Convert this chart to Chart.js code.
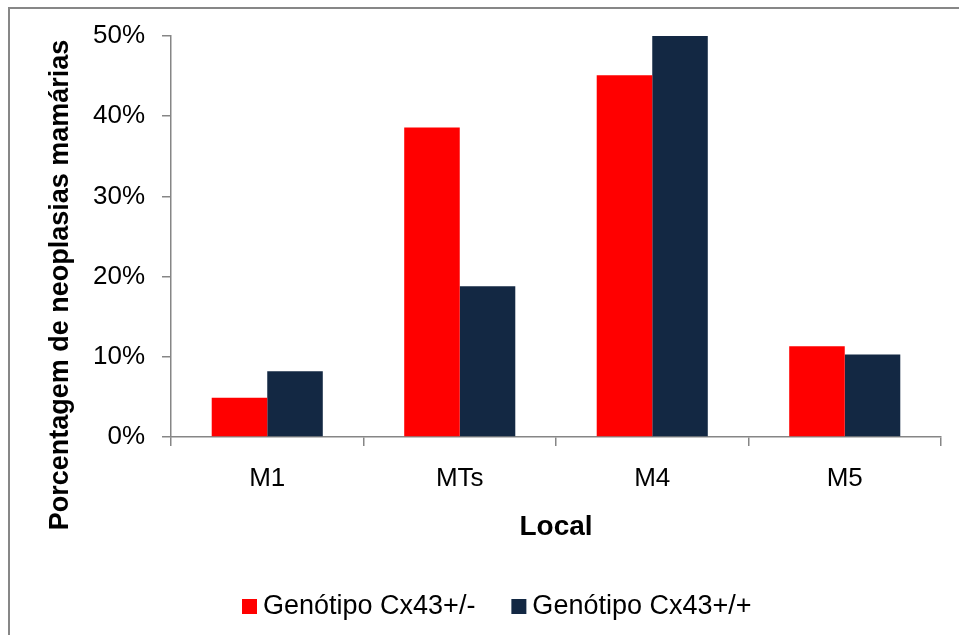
<!DOCTYPE html>
<html>
<head>
<meta charset="utf-8">
<script src="https://cdn.jsdelivr.net/npm/chart.js@4.4.0/dist/chart.umd.min.js"></script>
<style>
  html, body { margin: 0; padding: 0; background: #fff; overflow: hidden; }
  #frame { position: absolute; left: 8px; top: 7px; width: 1000px; height: 700px;
           border-top: 2px solid #878787; border-left: 2px solid #878787; }
  #wrap { position: absolute; left: 0; top: 0; width: 959px; height: 635px; }
</style>
</head>
<body>
<div id="frame"></div>
<div id="wrap"><canvas id="chart"></canvas></div>
<script>
// chart data
const categories = ["M1", "MTs", "M4", "M5"];
const seriesNames = ["Genótipo Cx43+/-", "Genótipo Cx43+/+"];
const heterozygous = [4.9, 38.6, 45.1, 11.3]; // Cx43+/-
const wildType = [8.2, 18.8, 50.0, 10.3];     // Cx43+/+
const yTicks = [0, 10, 20, 30, 40, 50];
const yTitle = "Porcentagem de neoplasias mamárias";
const xTitle = "Local";

const FONT = '"Liberation Sans", Arial, sans-serif';
const AXIS_GRAY = "#868686";

// rotated y title, placed like the original (not centred on the axis)
const yTitlePlugin = {
  id: "yTitle",
  afterDraw(chart) {
    const ctx = chart.ctx;
    ctx.save();
    ctx.translate(61, 285);
    ctx.rotate(-Math.PI / 2);
    ctx.font = "bold 27px " + FONT;
    ctx.fillStyle = "#000";
    ctx.textAlign = "center";
    ctx.textBaseline = "middle";
    ctx.fillText(yTitle, 0, 0);
    ctx.restore();
  }
};

// legend row at the bottom, small square + label
const bottomLegend = {
  id: "bottomLegend",
  afterDraw(chart) {
    const ctx = chart.ctx;
    const y = 607;
    let x = 242;
    ctx.save();
    ctx.font = "27px " + FONT;
    ctx.textBaseline = "middle";
    ctx.textAlign = "left";
    chart.data.datasets.forEach((ds) => {
      ctx.fillStyle = ds.backgroundColor;
      ctx.fillRect(x, y - 8, 15, 15);
      x += 21;
      ctx.fillStyle = "#000";
      ctx.fillText(ds.label, x, y);
      x += ctx.measureText(ds.label).width + 36;
    });
    ctx.restore();
  }
};

const ctx = document.getElementById("chart").getContext("2d");
const chart = new Chart(ctx, {
  type: "bar",
  data: {
    labels: categories,
    datasets: [
      { label: seriesNames[0], data: heterozygous, backgroundColor: "#ff0000" },
      { label: seriesNames[1], data: wildType, backgroundColor: "#132843" }
    ]
  },
  options: {
    responsive: true,
    maintainAspectRatio: false,
    devicePixelRatio: 1,
    animation: false,
    layout: { padding: { left: 0, right: 18, top: 36, bottom: 0 } },
    datasets: { bar: { categoryPercentage: 0.577, barPercentage: 1.0 } },
    plugins: {
      legend: { display: false },
      tooltip: { enabled: false }
    },
    scales: {
      x: {
        grid: { drawOnChartArea: false, drawTicks: true, tickLength: 9, color: AXIS_GRAY, lineWidth: 1.5 },
        border: { display: true, color: AXIS_GRAY, width: 1.5 },
        ticks: { color: "#000", font: { family: FONT, size: 26 }, padding: 17 },
        title: {
          display: true, text: xTitle, color: "#000",
          font: { family: FONT, size: 28, weight: "bold" },
          padding: { top: 0, bottom: 91 }
        },
        afterFit(scale) { scale.height = 198; }
      },
      y: {
        min: 0,
        max: 50,
        afterBuildTicks(scale) { scale.ticks = yTicks.map((v) => ({ value: v })); },
        grid: { drawOnChartArea: false, drawTicks: true, tickLength: 9, color: AXIS_GRAY, lineWidth: 1.5 },
        border: { display: true, color: AXIS_GRAY, width: 1.5 },
        ticks: {
          color: "#000", font: { family: FONT, size: 26 }, padding: 17,
          callback: (v) => v + "%"
        },
        afterFit(scale) { scale.width = 171; }
      }
    }
  },
  plugins: [yTitlePlugin, bottomLegend]
});
</script>
</body>
</html>
